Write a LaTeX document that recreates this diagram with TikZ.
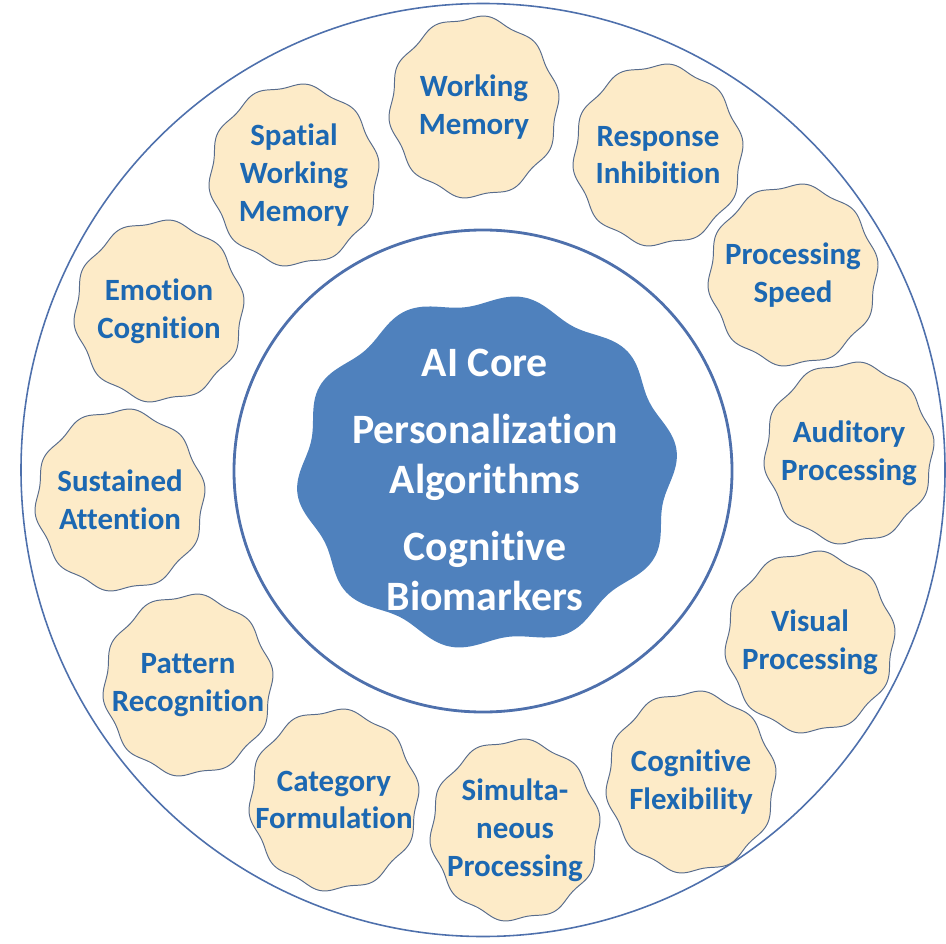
\documentclass[tikz,border=0pt]{standalone}
\usepackage{fontspec}
\setmainfont{Carlito}[Ligatures=NoCommon]
\definecolor{leaftext}{RGB}{28,104,178}
\definecolor{leaffill}{RGB}{253,235,200}
\definecolor{leafline}{RGB}{88,108,140}
\definecolor{corefill}{RGB}{79,129,189}
\definecolor{ringline}{RGB}{78,112,172}
\tikzset{
	leafblob/.style={fill=leaffill, draw=leafline, line width=0.55pt},
	leaf/.style={text=leaftext, font=\bfseries\fontsize{17.6}{21.5}\selectfont, align=center, inner sep=0pt},
	core/.style={text=white, font=\bfseries\fontsize{23.8}{28.4}\selectfont, align=center, inner sep=0pt},
}
\begin{document}
\begin{tikzpicture}
				\useasboundingbox (0,0) rectangle (18.92,-18.86);
				%rings
				\draw[ringline, line width=0.9pt] (9.66,-9.4) ellipse (9.24 and 9.33);
				\draw[ringline, line width=1.6pt] (9.66,-9.42) ellipse (4.98 and 4.82);
				%core
				\fill[corefill, shift={(9.74,-9.44)}] plot[domain=0:360, samples=145, smooth]
					({(3.70+0.12*sin(10*\x+20))*cos(\x)}, {(3.44+0.12*sin(10*\x+20))*sin(\x)}) -- cycle;
				\node[core] (aicore) at (9.7,-9.6) {AI Core\\[9.6pt]Personalization\\Algorithms\\[9.6pt]Cognitive\\Biomarkers};
				%leaves
				\foreach \px/\py/\nm/\txt in {
					9.48/-2.14/workmem/{Working\\Memory},
					13.16/-3.10/respinh/{Response\\Inhibition},
					15.86/-5.50/procspeed/{Processing\\Speed},
					16.98/-9.06/audproc/{Auditory\\Processing},
					16.20/-12.84/visproc/{Visual\\Processing},
					13.82/-15.64/cogflex/{Cognitive\\Flexibility},
					10.30/-16.60/simproc/{Simulta-\\neous\\Processing},
					6.68/-16.00/catform/{Category\\Formulation},
					3.76/-13.70/patrec/{Pattern\\Recognition},
					2.40/-10.00/sustatt/{Sustained\\Attention},
					3.18/-6.22/emocog/{Emotion\\Cognition},
					5.88/-3.50/spatmem/{Spatial\\Working\\Memory}} {
					\draw[leafblob, shift={(\px,\py)}] plot[domain=0:360, samples=121, smooth]
						({(1.67+0.045*sin(10*\x))*cos(\x)}, {(1.79+0.045*sin(10*\x))*sin(\x)}) -- cycle;
					\node[leaf] (\nm) at (\px,\py) {\txt};
				}
			\end{tikzpicture}
\end{document}
